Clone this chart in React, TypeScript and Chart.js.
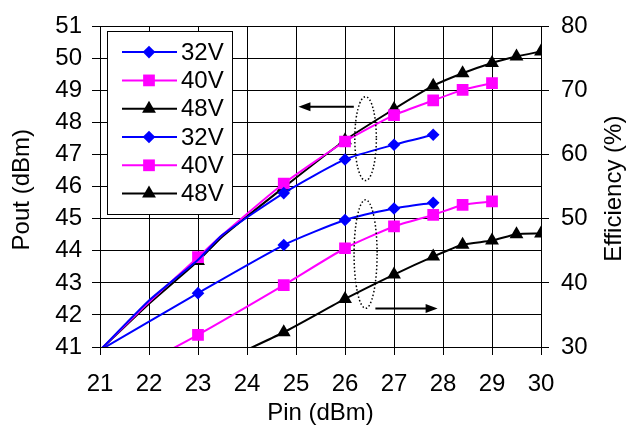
import React, { useEffect, useRef } from 'react';
import { Chart, registerables } from 'chart.js';

Chart.register(...registerables);

// ---------- data ----------
const xTicksMin = 21;
const xTicksMax = 30;
const poutMin = 41;
const poutMax = 51;
const effMin = 30;
const effMax = 80;

const legendLabels = ['32V', '40V', '48V', '32V', '40V', '48V'];

// Pout (dBm) vs Pin (dBm)
const poutX32 = [21, 22, 23, 23.5, 24.75, 26, 27, 27.8];
const pout32 = [40.9, 42.45, 43.72, 44.5, 45.8, 46.85, 47.31, 47.62];
const poutMark32 = [0, 0, 0, 0, 1, 1, 1, 1];

const poutX40 = [21, 22, 23, 23.5, 24.75, 26, 27, 27.8, 28.4, 29];
const pout40 = [40.9, 42.4, 43.8, 44.5, 46.1, 47.41, 48.23, 48.69, 49.02, 49.23];
const poutMark40 = [0, 0, 1, 0, 1, 1, 1, 1, 1, 1];

const poutX48 = [21, 22, 23, 23.5, 24.75, 26, 27, 27.8, 28.4, 29, 29.5, 30];
const pout48 = [40.9, 42.35, 43.68, 44.45, 45.98, 47.45, 48.42, 49.15, 49.54, 49.86, 50.06, 50.22];
const poutMark48 = [0, 0, 1, 0, 1, 1, 1, 1, 1, 1, 1, 1];

// Efficiency (%) vs Pin (dBm)
const effX32 = [21, 23, 24.75, 26, 27, 27.8];
const eff32 = [29.5, 38.4, 45.9, 49.8, 51.6, 52.5];
const effMark32 = [0, 1, 1, 1, 1, 1];

const effX40 = [21, 23, 24.75, 26, 27, 27.8, 28.4, 29];
const eff40 = [23.7, 31.9, 39.65, 45.4, 48.8, 50.6, 52.15, 52.7];
const effMark40 = [0, 1, 1, 1, 1, 1, 1, 1];

const effX48 = [23, 24.75, 26, 27, 27.8, 28.4, 29, 29.5, 30];
const eff48 = [26.0, 32.3, 37.5, 41.3, 44.1, 45.95, 46.6, 47.6, 47.7];
const effMark48 = [0, 1, 1, 1, 1, 1, 1, 1, 1];

// annotation geometry in data units
const leftArrow = { x1: 26.18, x2: 25.05, y: 48.49 };
const rightArrow = { x1: 26.62, x2: 27.89, y: 36 };
const upperEllipse = { cx: 26.42, cy: 47.5, rx: 0.22, ry: 1.31 };
const lowerEllipse = { cx: 26.42, cy: 44.5, rx: 0.235, ry: 8.46 };

// ---------- styles ----------
const FONT = "'Liberation Sans', Arial, Helvetica, sans-serif";
const BLUE = '#0000FF';
const MAGENTA = '#FF00FF';
const BLACK = '#000000';

const series = [
  { xs: poutX32, ys: pout32, marks: poutMark32, color: BLUE, style: 'rectRot', r: 6.3, axis: 'y' },
  { xs: poutX40, ys: pout40, marks: poutMark40, color: MAGENTA, style: 'rect', r: 8.3, axis: 'y' },
  { xs: poutX48, ys: pout48, marks: poutMark48, color: BLACK, style: 'triangle', r: 8, axis: 'y' },
  { xs: effX32, ys: eff32, marks: effMark32, color: BLUE, style: 'rectRot', r: 6.3, axis: 'y2' },
  { xs: effX40, ys: eff40, marks: effMark40, color: MAGENTA, style: 'rect', r: 8.3, axis: 'y2' },
  { xs: effX48, ys: eff48, marks: effMark48, color: BLACK, style: 'triangle', r: 8, axis: 'y2' },
];

function drawMarker(ctx: CanvasRenderingContext2D, style: string, x: number, y: number, r: number, color: string) {
  ctx.save();
  ctx.fillStyle = color;
  ctx.beginPath();
  if (style === 'rectRot') {
    ctx.moveTo(x, y - r);
    ctx.lineTo(x + r, y);
    ctx.lineTo(x, y + r);
    ctx.lineTo(x - r, y);
  } else if (style === 'rect') {
    const h = r * Math.SQRT1_2;
    ctx.rect(x - h, y - h, 2 * h, 2 * h);
  } else {
    const w = r * Math.sin(Math.PI / 3);
    ctx.moveTo(x, y - r);
    ctx.lineTo(x + w, y + r / 2);
    ctx.lineTo(x - w, y + r / 2);
  }
  ctx.closePath();
  ctx.fill();
  ctx.restore();
}

function arrow(ctx: CanvasRenderingContext2D, x1: number, y1: number, x2: number, y2: number) {
  const dir = Math.sign(x2 - x1);
  const headLen = 12;
  const headHalf = 4.5;
  ctx.save();
  ctx.strokeStyle = BLACK;
  ctx.fillStyle = BLACK;
  ctx.lineWidth = 2;
  ctx.beginPath();
  ctx.moveTo(x1, y1);
  ctx.lineTo(x2 - dir * headLen * 0.8, y2);
  ctx.stroke();
  ctx.beginPath();
  ctx.moveTo(x2, y2);
  ctx.lineTo(x2 - dir * headLen, y2 - headHalf);
  ctx.lineTo(x2 - dir * headLen, y2 + headHalf);
  ctx.closePath();
  ctx.fill();
  ctx.restore();
}

function ellipse(ctx: CanvasRenderingContext2D, cx: number, cy: number, rx: number, ry: number) {
  ctx.save();
  ctx.strokeStyle = BLACK;
  ctx.lineWidth = 1.5;
  ctx.setLineDash([1.5, 2.2]);
  ctx.beginPath();
  ctx.ellipse(cx, cy, Math.abs(rx), Math.abs(ry), 0, 0, Math.PI * 2);
  ctx.stroke();
  ctx.restore();
}

const overlayPlugin = {
  id: 'overlay',
  afterDraw(chart: any) {
    const { ctx, chartArea, scales } = chart;
    const xs = scales.x;
    const yl = scales.y;
    const yr = scales.y2;

    // annotations
    arrow(ctx, xs.getPixelForValue(leftArrow.x1), yl.getPixelForValue(leftArrow.y), xs.getPixelForValue(leftArrow.x2), yl.getPixelForValue(leftArrow.y));
    arrow(ctx, xs.getPixelForValue(rightArrow.x1), yr.getPixelForValue(rightArrow.y), xs.getPixelForValue(rightArrow.x2), yr.getPixelForValue(rightArrow.y));
    {
      const cx = xs.getPixelForValue(upperEllipse.cx);
      const cy = yl.getPixelForValue(upperEllipse.cy);
      ellipse(ctx, cx, cy, xs.getPixelForValue(upperEllipse.cx + upperEllipse.rx) - cx, yl.getPixelForValue(upperEllipse.cy + upperEllipse.ry) - cy);
    }
    {
      const cx = xs.getPixelForValue(lowerEllipse.cx);
      const cy = yr.getPixelForValue(lowerEllipse.cy);
      ellipse(ctx, cx, cy, xs.getPixelForValue(lowerEllipse.cx + lowerEllipse.rx) - cx, yr.getPixelForValue(lowerEllipse.cy + lowerEllipse.ry) - cy);
    }

    // legend
    const bx = chartArea.left + 7;
    const by = chartArea.top + 5;
    const bw = 125;
    const bh = 183;
    ctx.save();
    ctx.fillStyle = '#ffffff';
    ctx.fillRect(bx, by, bw, bh);
    ctx.strokeStyle = BLACK;
    ctx.lineWidth = 1;
    ctx.strokeRect(Math.round(bx) + 0.5, Math.round(by) + 0.5, bw, bh);
    ctx.font = `24px ${FONT}`;
    ctx.textBaseline = 'middle';
    ctx.textAlign = 'left';
    series.forEach((s, i) => {
      const ry = by + 20.7 + i * 28.3;
      ctx.strokeStyle = s.color;
      ctx.lineWidth = 2;
      ctx.beginPath();
      ctx.moveTo(bx + 15, ry);
      ctx.lineTo(bx + 70, ry);
      ctx.stroke();
      drawMarker(ctx, s.style, bx + 42, ry, s.r, s.color);
      ctx.fillStyle = BLACK;
      ctx.fillText(legendLabels[i], bx + 74, ry + 1);
    });
    ctx.restore();

    // axis titles
    ctx.save();
    ctx.fillStyle = BLACK;
    ctx.font = `24px ${FONT}`;
    ctx.textAlign = 'center';
    ctx.textBaseline = 'middle';
    ctx.fillText('Pin (dBm)', (chartArea.left + chartArea.right) / 2, 413);
    ctx.save();
    ctx.translate(22, (chartArea.top + chartArea.bottom) / 2 + 3);
    ctx.rotate(-Math.PI / 2);
    ctx.fillText('Pout (dBm)', 0, 0);
    ctx.restore();
    ctx.save();
    ctx.translate(614, (chartArea.top + chartArea.bottom) / 2 + 2);
    ctx.rotate(-Math.PI / 2);
    ctx.fillText('Efficiency (%)', 0, 0);
    ctx.restore();
    ctx.restore();
  },
};

export default function App() {
  const ref = useRef<HTMLCanvasElement | null>(null);

  useEffect(() => {
    if (!ref.current) return;
    const datasets = series.map((s) => ({
      data: s.xs.map((x, i) => ({ x, y: s.ys[i] })),
      yAxisID: s.axis,
      borderColor: s.color,
      backgroundColor: s.color,
      borderWidth: 2,
      tension: 0.2,
      pointStyle: s.style,
      pointRadius: (c: any) => (s.marks[c.dataIndex] ? s.r : 0),
      pointHoverRadius: 0,
      pointBorderWidth: 0,
      pointBackgroundColor: s.color,
      pointBorderColor: s.color,
    }));

    const tickFont = { family: FONT, size: 24 };
    const chart = new Chart(ref.current, {
      type: 'line',
      data: { datasets },
      options: {
        animation: false,
        responsive: false,
        devicePixelRatio: 1,
        events: [],
        layout: { padding: { top: 22, left: 0, right: 0, bottom: 0 } },
        plugins: { legend: { display: false }, tooltip: { enabled: false }, title: { display: false } },
        scales: {
          x: {
            type: 'linear',
            min: xTicksMin,
            max: xTicksMax,
            ticks: { stepSize: 1, font: tickFont, color: BLACK, padding: 15, maxRotation: 0 },
            grid: { color: BLACK, lineWidth: 1, tickLength: 8, drawTicks: true },
            border: { color: BLACK, width: 1 },
            afterFit: (s: any) => { s.height = 78; },
          },
          y: {
            type: 'linear',
            position: 'left',
            min: poutMin,
            max: poutMax,
            ticks: { stepSize: 1, font: tickFont, color: BLACK, padding: 10 },
            grid: { color: BLACK, lineWidth: 1, tickLength: 8 },
            border: { color: BLACK, width: 1 },
            afterFit: (s: any) => { s.width = 100; },
          },
          y2: {
            type: 'linear',
            position: 'right',
            min: effMin,
            max: effMax,
            ticks: { stepSize: 10, font: tickFont, color: BLACK, padding: 12 },
            grid: { color: BLACK, lineWidth: 1, tickLength: 8, drawOnChartArea: false },
            border: { color: BLACK, width: 1 },
            afterFit: (s: any) => { s.width = 100; },
          },
        },
      },
      plugins: [overlayPlugin],
    } as any);
    return () => chart.destroy();
  }, []);

  return (
    <div style={{ position: 'absolute', left: 0, top: 0, width: 641, height: 425, background: '#fff' }}>
      <canvas ref={ref} width={641} height={425} style={{ display: 'block', width: 641, height: 425 }} />
    </div>
  );
}
